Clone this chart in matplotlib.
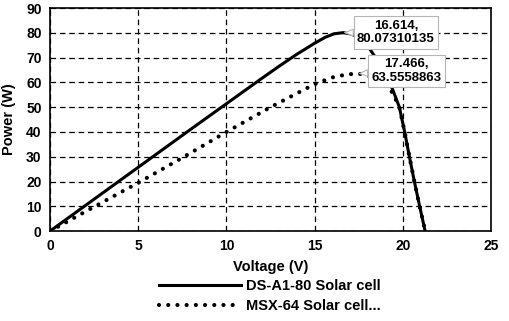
import matplotlib
matplotlib.use('Agg')
import matplotlib.pyplot as plt

plt.rcParams['font.family'] = ['Liberation Sans', 'DejaVu Sans']
plt.rcParams['font.weight'] = 'bold'

# DS-A1-80 curve
ds_v = [0, 2, 4, 6, 8, 10, 12, 13, 14, 15, 15.6, 16.1, 16.614, 17.1, 17.6, 18.1, 18.5,
        19.0, 19.4, 19.8, 20.1, 20.37, 20.65, 20.95, 21.26]
ds_p = [0, 10.3, 20.6, 30.9, 41.2, 51.4, 61.6, 66.6, 71.4, 75.8, 78.2, 79.6, 80.07, 79.5,
        77.5, 73.7, 69.5, 63.5, 57.5, 50, 40, 30, 20, 10, 0]

# MSX-64 curve
msx_v = [0, 2.5, 5, 7.5, 10, 12.5, 14, 15, 16, 16.8, 17.466, 18, 18.5, 19.0, 19.4, 19.8,
         20.1, 20.37, 20.65, 20.95, 21.26]
msx_p = [0, 9.8, 19.5, 29.6, 40, 50, 55.6, 59.3, 62, 63.2, 63.56, 62.8, 61, 58.5, 56,
         50, 40, 30, 20, 10, 0]

peaks = [(16.614, 80.07310135, '16.614,\n80.07310135', (19.6, 80.1)),
         (17.466, 63.5558863, '17.466,\n63.5558863', (20.2, 64.6))]

fig = plt.figure(figsize=(5.1, 3.21), dpi=100)
ax = fig.add_axes([0.098, 0.280, 0.865, 0.695])

ax.plot(ds_v, ds_p, color='black', lw=2.2, label='DS-A1-80 Solar cell', zorder=3)
ax.plot(msx_v, msx_p, color='black', lw=3, linestyle=(0, (0.01, 2.2)),
        dash_capstyle='round', label='MSX-64 Solar cell...', zorder=3)

for px, py, txt, pos in peaks:
    ax.annotate(txt, xy=(px, py), xytext=pos, ha='center', va='center',
                fontsize=9.5, fontweight='bold', zorder=5,
                bbox=dict(boxstyle='square,pad=0.25', fc='white', ec='#b5b5b5', lw=0.8),
                arrowprops=dict(arrowstyle='wedge,tail_width=0.5', fc='white',
                                ec='#b5b5b5', lw=0.8, shrinkA=0, shrinkB=1))

ax.set_xlim(0, 25)
ax.set_ylim(0, 90)
ax.set_xticks(range(0, 26, 5))
ax.set_yticks(range(0, 91, 10))
ax.tick_params(length=0, labelsize=10, pad=6)
for lab in ax.get_xticklabels() + ax.get_yticklabels():
    lab.set_fontweight('bold')
ax.grid(True, color='black', linestyle=(0, (4.5, 3)), lw=0.9)
for s in ax.spines.values():
    s.set_color('black')
    s.set_linewidth(1.2)

ax.set_xlabel('Voltage (V)', fontsize=10.5, fontweight='bold', labelpad=5)
ax.set_ylabel('Power (W)', fontsize=10.5, fontweight='bold', labelpad=7)

fig.legend(loc='center', bbox_to_anchor=(270 / 510, 1 - 296 / 321), frameon=False,
           prop={'weight': 'bold', 'size': 10.5}, handlelength=5.6,
           handletextpad=0.35, labelspacing=0.45)

fig.savefig('out.png', dpi=100)
